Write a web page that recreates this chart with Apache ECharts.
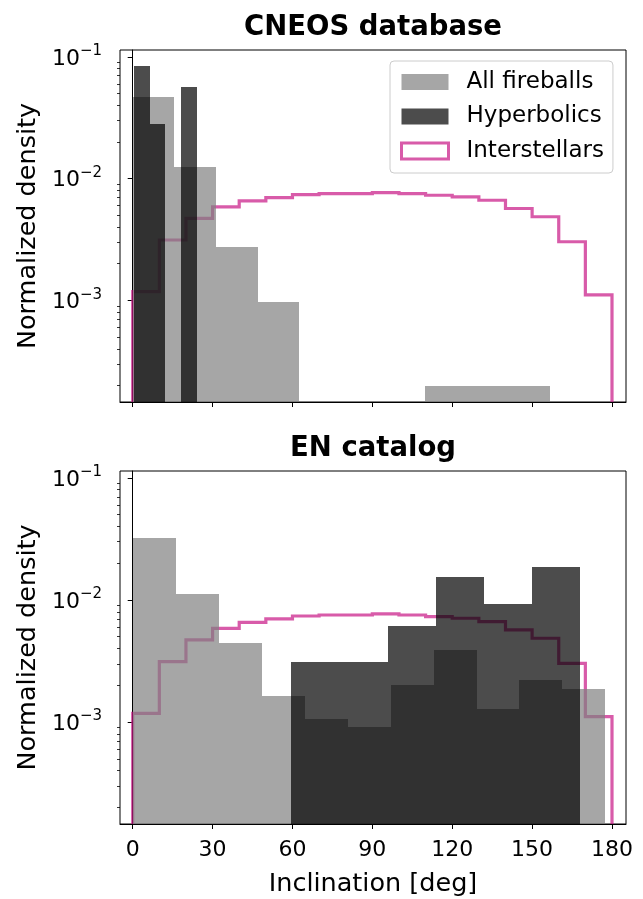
<!DOCTYPE html>
<html>
<head>
<meta charset="utf-8">
<script src="https://cdn.jsdelivr.net/npm/echarts@6/dist/echarts.min.js"></script>
<style>
html,body{margin:0;padding:0;background:#fff;}
#chart{width:643px;height:899px;}
</style>
</head>
<body>
<div id="chart"></div>
<script>
// ---------------- data ----------------
const panelTitles = ['CNEOS database', 'EN catalog'];
const seriesNames = ['All fireballs', 'Hyperbolics', 'Interstellars'];

// CNEOS: all fireballs (bin edges, density)
const cneosFireballEdges = [0, 15.66, 31.32, 46.98, 62.64, 78.3, 93.96, 109.62, 125.28, 140.94, 156.6];
const cneosFireballVals  = [0.0466, 0.01236, 0.00274, 0.000977, 0, 0, 0, 0.000197, 0.000197, 0.000197];
// CNEOS: hyperbolics
const cneosHypEdges = [0.6, 6.45, 12.3, 18.15, 24.0];
const cneosHypVals  = [0.0845, 0.0280, 0, 0.0562];

// EN: all fireballs
const enFireballEdges = [0, 16.14, 32.28, 48.42, 64.56, 80.7, 96.84, 112.98, 129.12, 145.26, 161.4, 177.54];
const enFireballVals  = [0.0319, 0.01114, 0.00441, 0.00165, 0.00105, 0.000906, 0.00203, 0.00386, 0.00128, 0.00219, 0.00187];
// EN: hyperbolics
const enHypEdges = [59.5, 77.6, 95.7, 113.8, 131.9, 150.0, 168.1];
const enHypVals  = [0.0031, 0.0031, 0.00612, 0.01545, 0.00922, 0.01845];

// Interstellars (step outline, same in both panels)
const isoEdges = [0, 10, 20, 30, 40, 50, 60, 70, 80, 90, 100, 110, 120, 130, 140, 150, 160, 170, 180];
const isoVals  = [0.00118, 0.00313, 0.00471, 0.00586, 0.00656, 0.00699, 0.00739, 0.00753, 0.00753,
                  0.00768, 0.00753, 0.00730, 0.00708, 0.00664, 0.00568, 0.00486, 0.00303, 0.00111];

// axis ticks
const xTicks = [0, 30, 60, 90, 120, 150, 180];
const yMajorTicks = [0.1, 0.01, 0.001];
const yMinorTicks = [0.0002, 0.0003, 0.0004, 0.0005, 0.0006, 0.0007, 0.0008, 0.0009,
                     0.002, 0.003, 0.004, 0.005, 0.006, 0.007, 0.008, 0.009,
                     0.02, 0.03, 0.04, 0.05, 0.06, 0.07, 0.08, 0.09];

// ---------------- style / layout ----------------
const FONT = 'DejaVu Sans';
const GRAY = 'rgba(128,128,128,0.7)';
const DARK = 'rgba(0,0,0,0.7)';
const PINK = 'rgba(199,21,133,0.7)';
const XMIN = -4.77, XMAX = 185.26;
const YMIN = 1.463e-4, YMAX = 0.1138;

function bins(edges, vals) {
  const out = [];
  for (let i = 0; i < vals.length; i++) {
    if (vals[i] > 0) out.push([edges[i], edges[i + 1], vals[i]]);
  }
  return out;
}

function histRenderer(color) {
  return function (params, api) {
    const x0 = api.value(0), x1 = api.value(1), v = api.value(2);
    const a = api.coord([x0, v]);
    const b = api.coord([x1, v]);
    const cs = params.coordSys;
    const bottom = cs.y + cs.height;
    const left = Math.round(a[0]), right = Math.round(b[0]), top = Math.round(a[1]);
    return {
      type: 'rect',
      shape: { x: left, y: top, width: right - left, height: bottom - top },
      style: { fill: color }
    };
  };
}

function stepRenderer(edges, vals) {
  return function (params, api) {
    if (params.dataIndex !== 0) return null;
    const cs = params.coordSys;
    const bottom = cs.y + cs.height + 3;
    const pts = [];
    const first = api.coord([edges[0], vals[0]]);
    pts.push([first[0], bottom]);
    for (let i = 0; i < vals.length; i++) {
      pts.push(api.coord([edges[i], vals[i]]));
      pts.push(api.coord([edges[i + 1], vals[i]]));
    }
    const last = api.coord([edges[edges.length - 1], vals[vals.length - 1]]);
    pts.push([last[0], bottom]);
    return {
      type: 'polyline',
      shape: { points: pts },
      style: { stroke: PINK, lineWidth: 3.2, fill: null, lineJoin: 'miter' }
    };
  };
}

const grids = [
  { left: 120, top: 50, width: 506, height: 352 },
  { left: 120, top: 471, width: 506, height: 353 }
];

const gridOpts = grids.map(g => Object.assign({
  show: true, borderColor: '#000', borderWidth: 1, backgroundColor: 'transparent',
  containLabel: false, outerBoundsMode: 'none'
}, g));

const xAxes = [0, 1].map(i => ({
  type: 'value', gridIndex: i, min: XMIN, max: XMAX,
  axisLine: { show: true, onZero: false, lineStyle: { color: '#000', width: 1 } },
  axisTick: { show: true, customValues: xTicks, length: 5, lineStyle: { color: '#000', width: 1 } },
  axisLabel: { show: i === 1, customValues: xTicks, fontSize: 22, fontFamily: FONT, color: '#000', margin: 15 },
  splitLine: { show: false },
  name: i === 1 ? 'Inclination [deg]' : '',
  nameLocation: 'middle', nameGap: 47,
  nameTextStyle: { fontSize: 25.5, fontFamily: FONT, color: '#000' }
}));

const yAxes = [];
[0, 1].forEach(i => {
  yAxes.push({
    type: 'log', logBase: 10, gridIndex: i, min: YMIN, max: YMAX,
    axisLine: { show: true, lineStyle: { color: '#000', width: 1 } },
    axisTick: { show: true, customValues: yMajorTicks, length: 5, lineStyle: { color: '#000', width: 1 } },
    axisLabel: {
      customValues: yMajorTicks, margin: 18,
      formatter: function (v) {
        const e = Math.round(Math.log10(v));
        return '{b|10}{s|\u2212' + Math.abs(e) + '}';
      },
      rich: {
        b: { fontSize: 22, fontFamily: FONT, color: '#000', lineHeight: 26, verticalAlign: 'bottom' },
        s: { fontSize: 15, fontFamily: FONT, color: '#000', lineHeight: 18, verticalAlign: 'top' }
      }
    },
    splitLine: { show: false },
    name: 'Normalized density', nameLocation: 'middle', nameGap: 71, nameRotate: 90,
    nameTextStyle: { fontSize: 25.5, fontFamily: FONT, color: '#000' }
  });
  yAxes.push({
    type: 'log', logBase: 10, gridIndex: i, min: YMIN, max: YMAX, position: 'left',
    axisLine: { show: false },
    axisTick: { show: true, customValues: yMinorTicks, length: 3, lineStyle: { color: '#000', width: 0.8 } },
    axisLabel: { show: false },
    splitLine: { show: false }
  });
});

function panelSeries(i, fEdges, fVals, hEdges, hVals) {
  const yIdx = i * 2;
  return [
    { type: 'custom', name: 'Interstellars', xAxisIndex: i, yAxisIndex: yIdx, clip: true, z: 2,
      renderItem: stepRenderer(isoEdges, isoVals), data: bins(isoEdges, isoVals), encode: { x: [0, 1], y: 2 } },
    { type: 'custom', name: 'All fireballs', xAxisIndex: i, yAxisIndex: yIdx, clip: true, z: 3,
      renderItem: histRenderer(GRAY), data: bins(fEdges, fVals), encode: { x: [0, 1], y: 2 } },
    { type: 'custom', name: 'Hyperbolics', xAxisIndex: i, yAxisIndex: yIdx, clip: true, z: 4,
      renderItem: histRenderer(DARK), data: bins(hEdges, hVals), encode: { x: [0, 1], y: 2 } }
  ];
}

const series = [].concat(
  panelSeries(0, cneosFireballEdges, cneosFireballVals, cneosHypEdges, cneosHypVals),
  panelSeries(1, enFireballEdges, enFireballVals, enHypEdges, enHypVals)
);

const option = {
  animation: false,
  backgroundColor: '#fff',
  title: [
    { text: panelTitles[0], left: 373, top: 14, padding: 0, textAlign: 'center',
      textStyle: { fontSize: 27.5, fontWeight: 'bold', fontFamily: FONT, color: '#000' } },
    { text: panelTitles[1], left: 373, top: 435, padding: 0, textAlign: 'center',
      textStyle: { fontSize: 27.5, fontWeight: 'bold', fontFamily: FONT, color: '#000' } }
  ],
  legend: {
    data: [
      { name: seriesNames[0], icon: 'rect', itemStyle: { color: GRAY, borderWidth: 0 } },
      { name: seriesNames[1], icon: 'rect', itemStyle: { color: DARK, borderWidth: 0 } },
      { name: seriesNames[2], icon: 'rect', itemStyle: { color: '#fff', borderColor: PINK, borderWidth: 3 } }
    ],
    orient: 'vertical', left: 390, top: 61,
    itemWidth: 47, itemHeight: 16, itemGap: 8.5,
    padding: [8, 9, 9, 10],
    backgroundColor: 'rgba(255,255,255,0.8)', borderColor: '#cccccc', borderWidth: 1, borderRadius: 4,
    selectedMode: false,
    textStyle: { fontSize: 23, fontFamily: FONT, color: '#000', lineHeight: 26, padding: [0, 0, 0, 13] }
  },
  grid: gridOpts,
  xAxis: xAxes,
  yAxis: yAxes,
  series: series
};

const chart = echarts.init(document.getElementById('chart'), null, { renderer: 'canvas', width: 643, height: 899 });
chart.setOption(option);
</script>
</body>
</html>
